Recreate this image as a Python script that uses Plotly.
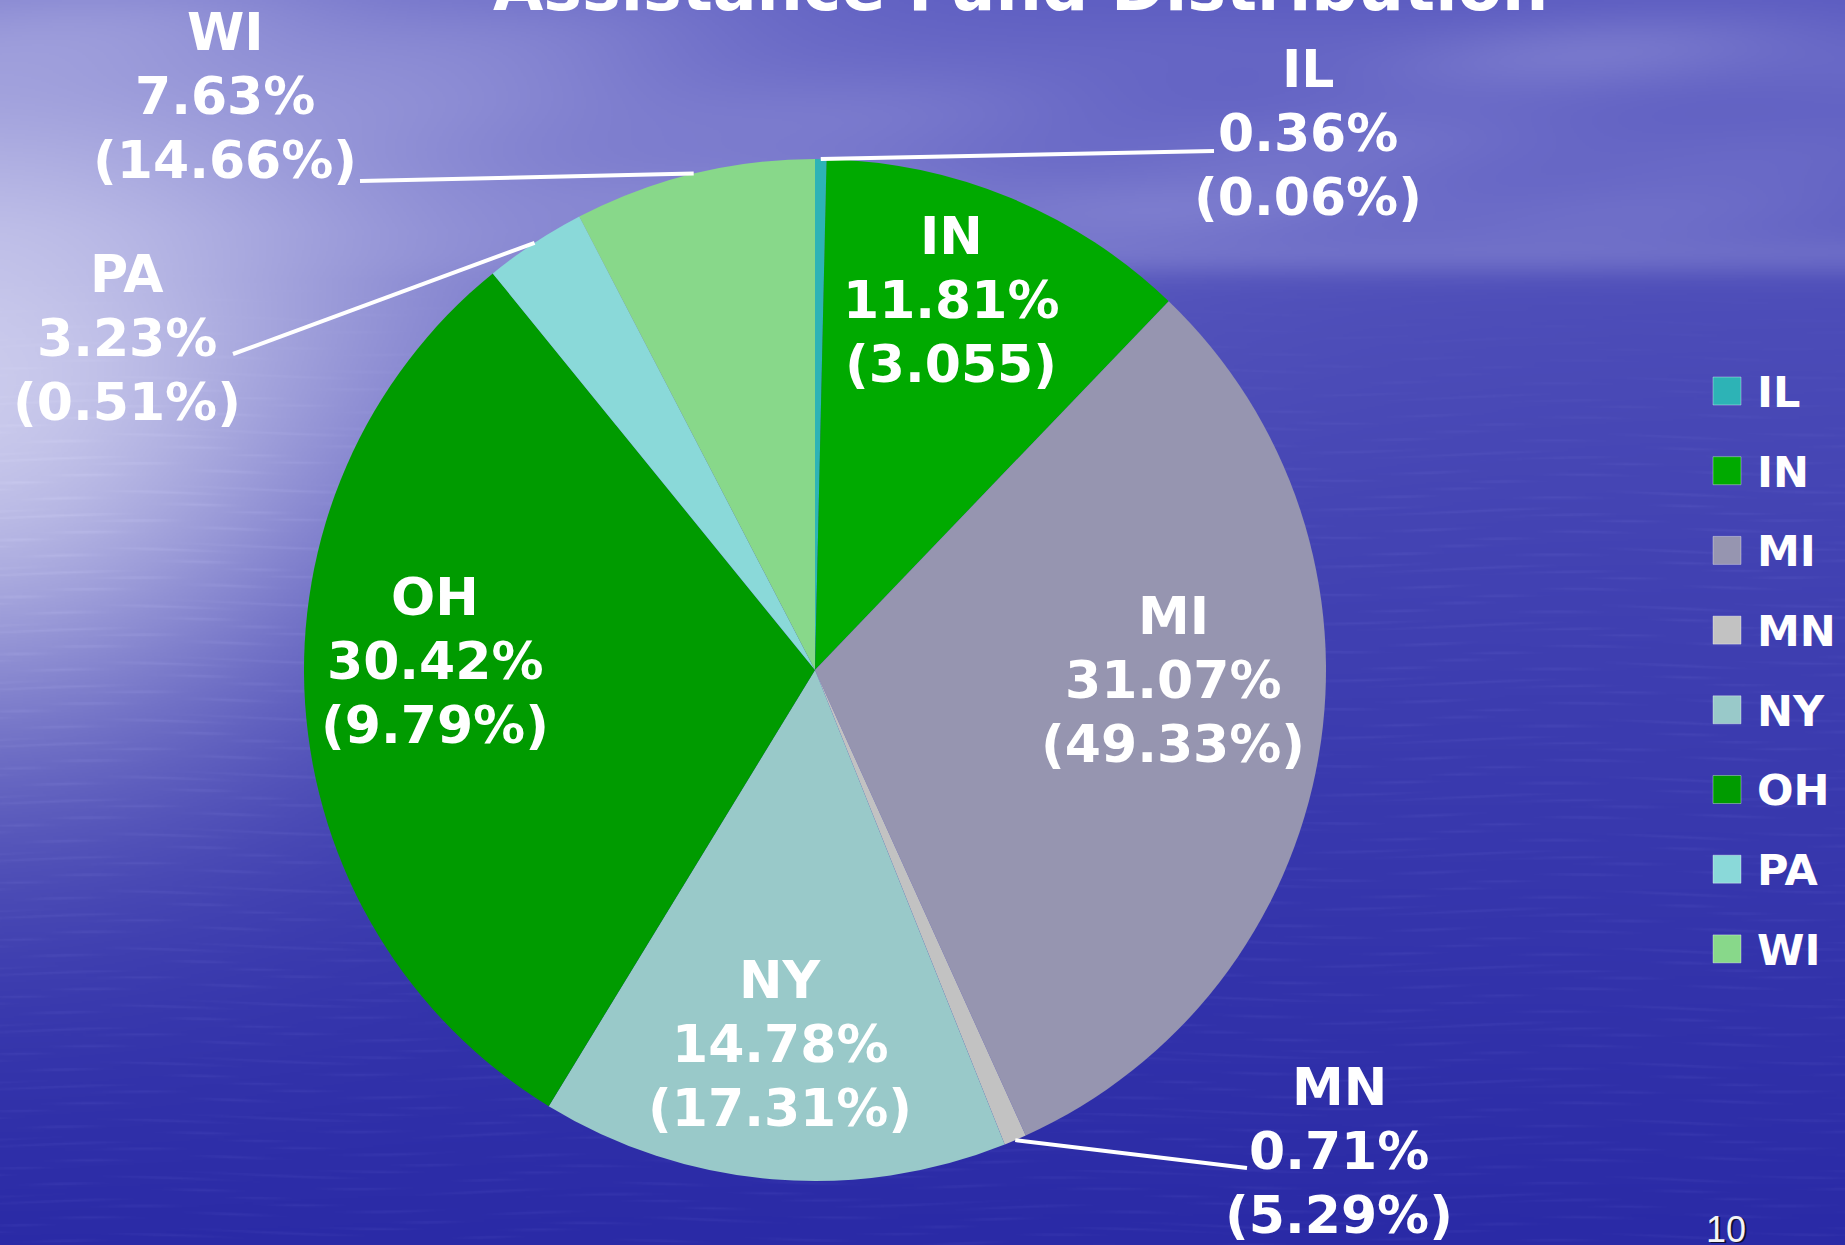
import numpy as np
import zlib, struct, base64
import plotly.graph_objects as go

W, H = 1845, 1245

# ---------------- data ----------------
states = ["IL", "IN", "MI", "MN", "NY", "OH", "PA", "WI"]
shares = [0.36, 11.81, 31.07, 0.71, 14.78, 30.42, 3.23, 7.63]
secondary = ["(0.06%)", "(3.055)", "(49.33%)", "(5.29%)", "(17.31%)", "(9.79%)", "(0.51%)", "(14.66%)"]
colors = ["#2DB3B6", "#00AA00", "#9695B0", "#C2C2C2", "#99C9C9", "#009B00", "#8AD9D9", "#88D88A"]
title_text = "Assistance Fund Distribution"
page_number = "10"

# ---------------- layout constants (pixels) ----------------
CX, CY, R = 815, 670, 511
label_centers = {"IL": (1308, 133), "IN": (951, 300), "MI": (1173, 680), "MN": (1339, 1151),
                 "NY": (780, 1044), "OH": (435, 661), "PA": (127, 338), "WI": (225, 96)}
leader_ends = {"IL": (1214, 151), "MN": (1247, 1168), "PA": (233, 354), "WI": (360, 181)}
LINE_GAP = 64
LABEL_SIZE = 52


def px(x):
    return x / W


def py(y):
    return 1 - y / H


# ---------------- background image (sky over sea) ----------------
def make_bg(w, h):
    ys, xs = np.mgrid[0:h, 0:w].astype(float)
    X = xs * (W / w)
    Y = ys * (H / h)
    HOR = 255.0
    sky = np.array([90, 90, 192.0])
    sea_top = np.array([80, 80, 186.0])
    sea_bot = np.array([42, 42, 166.0])
    t = np.clip((Y - HOR) / (H - HOR), 0, 1) ** 0.85
    sea = sea_top * (1 - t[..., None]) + sea_bot * t[..., None]
    wsea = np.clip((Y - HOR + 25) / 50, 0, 1)[..., None]
    img = sky * (1 - wsea) + sea * wsea

    def blend(img, s, col):
        s = s[..., None]
        return img * (1 - s) + np.array(col, float) * s

    # soft cloud wisps in the sky
    streaks = [(55, 1650, 420, 45, 0.28), (150, 1450, 520, 50, 0.2), (215, 1250, 650, 38, 0.24),
               (110, 700, 450, 50, 0.18), (35, 250, 500, 60, 0.25), (190, 850, 320, 32, 0.15)]
    for yc, xc, sx, sy, s in streaks:
        wav = 1 + 0.25 * np.sin(X * 0.012 + Y * 0.03)
        img = blend(img, s * wav * np.exp(-(((X - xc) / sx) ** 2 + ((Y - yc) / sy) ** 2)), (175, 175, 228))
    # horizon haze band
    img = blend(img, 0.25 * np.exp(-((Y - HOR) / 22) ** 2) * np.clip((X - 300) / 600, 0, 1), (165, 165, 222))
    # broad haze on upper-left
    img = blend(img, 0.38 * np.exp(-(((X - 250) / 650) ** 2 + ((Y - 250) / 280) ** 2)), (195, 195, 234))
    # sun reflection on the left
    img = blend(img, 0.8 * np.exp(-(((X + 50) / 420) ** 2 + ((Y - 400) / 360) ** 2)), (228, 228, 247))
    # faint water ripples
    wm = np.clip((Y - HOR) / 250, 0, 1)
    rip = np.sin(X * 0.021 + 3.0 * np.sin(Y * 0.11)) * np.sin(Y * 0.55 + 1.7 * np.sin(X * 0.013))
    rip = np.clip(rip, 0, 1) ** 3
    img = img + (rip * 11 * wm)[..., None] * np.array([0.8, 0.8, 0.6])
    return np.clip(img, 0, 255).astype(np.uint8)


def png_uri(arr):
    h, w, _ = arr.shape
    raw = b"".join(b"\x00" + arr[i].tobytes() for i in range(h))

    def chunk(tag, data):
        c = struct.pack(">I", len(data)) + tag + data
        return c + struct.pack(">I", zlib.crc32(tag + data) & 0xFFFFFFFF)

    png = b"\x89PNG\r\n\x1a\n" + chunk(b"IHDR", struct.pack(">IIBBBBB", w, h, 8, 2, 0, 0, 0)) \
        + chunk(b"IDAT", zlib.compress(raw, 9)) + chunk(b"IEND", b"")
    return "data:image/png;base64," + base64.b64encode(png).decode()


bg_uri = png_uri(make_bg(1230, 830))

# ---------------- figure ----------------
fig = go.Figure()
fig.add_trace(go.Pie(
    labels=states, values=shares, sort=False, direction="clockwise", rotation=0,
    marker=dict(colors=colors, line=dict(width=0)),
    textinfo="none", hoverinfo="label+percent", showlegend=False,
    domain=dict(x=[px(CX - R), px(CX + R)], y=[py(CY + R), py(CY - R)]),
))

annotations = []
shapes = []
label_font = dict(family="DejaVu Sans", size=LABEL_SIZE, color="white", weight="bold")

total = sum(shares)
cum = 0.0
for name, val, sec in zip(states, shares, secondary):
    mid_frac = (cum + val / 2) / total
    cum += val
    cx, cy = label_centers[name]
    lines = [name, f"{val:.2f}%", sec]
    for k, line in enumerate(lines):
        annotations.append(dict(text=line, x=px(cx), y=py(cy + (k - 1) * LINE_GAP),
                                xref="paper", yref="paper", xanchor="center", yanchor="middle",
                                showarrow=False, font=label_font))
    if name in leader_ends:
        a = 2 * np.pi * mid_frac
        sx, sy = CX + R * np.sin(a), CY - R * np.cos(a)
        ex, ey = leader_ends[name]
        shapes.append(dict(type="line", xref="paper", yref="paper",
                           x0=px(sx), y0=py(sy), x1=px(ex), y1=py(ey),
                           line=dict(color="white", width=4), layer="above"))

# custom legend
LEG_X, LEG_Y0, LEG_DY, SQ = 1713, 391, 79.7, 28
for i, (name, col) in enumerate(zip(states, colors)):
    yc = LEG_Y0 + i * LEG_DY
    shapes.append(dict(type="rect", xref="paper", yref="paper",
                       x0=px(LEG_X), x1=px(LEG_X + SQ), y0=py(yc + SQ / 2), y1=py(yc - SQ / 2),
                       fillcolor=col, line=dict(width=1, color="rgba(255,255,255,0.35)"), layer="above"))
    annotations.append(dict(text=name, x=px(LEG_X + 42), y=py(yc + 1), xref="paper", yref="paper",
                            xanchor="left", yanchor="middle", showarrow=False,
                            font=dict(family="DejaVu Sans", size=43, color="white", weight="bold")))

# title (cut at top edge as in the slide)
annotations.append(dict(text=title_text, x=px(1020), y=py(-12), xref="paper", yref="paper",
                        xanchor="center", yanchor="middle", showarrow=False,
                        font=dict(family="DejaVu Sans", size=65, color="white", weight="bold")))

# page number with shadow
for dx, dy, col in [(1.5, 1.5, "#101030"), (0, 0, "#f4f4f4")]:
    annotations.append(dict(text=page_number, x=px(1704 + dx), y=py(1229 + dy), xref="paper", yref="paper",
                            xanchor="left", yanchor="middle", showarrow=False,
                            font=dict(family="Liberation Sans", size=36, color=col)))

fig.update_layout(
    width=W, height=H, margin=dict(l=0, r=0, t=0, b=0),
    paper_bgcolor="#3a3ab0", plot_bgcolor="rgba(0,0,0,0)",
    showlegend=False,
    images=[dict(source=bg_uri, xref="paper", yref="paper", x=0, y=1, sizex=1, sizey=1,
                 xanchor="left", yanchor="top", sizing="stretch", layer="below")],
    shapes=shapes, annotations=annotations,
)

fig.write_html("out.html")
